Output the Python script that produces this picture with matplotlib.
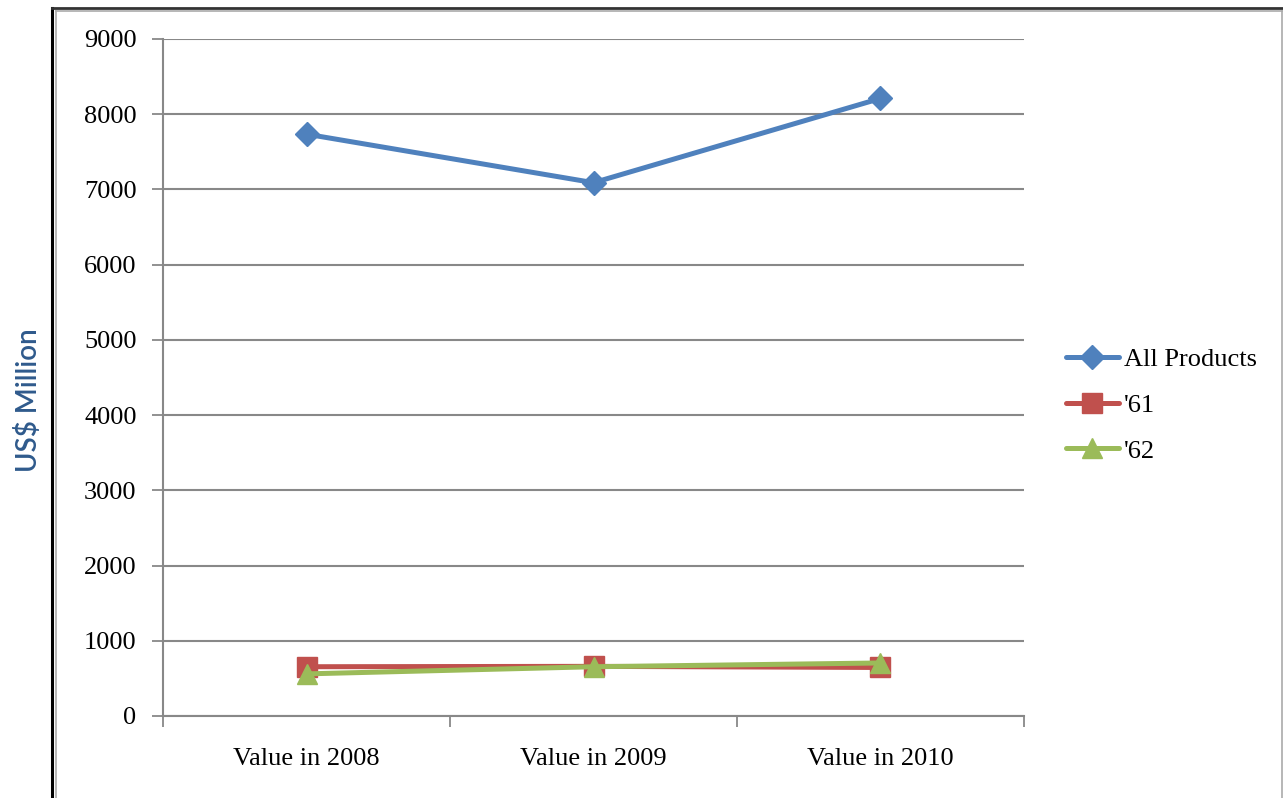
import matplotlib
matplotlib.use('Agg')
import matplotlib.pyplot as plt
from matplotlib.lines import Line2D

# ---------------------------------------------------------------- data
categories = ['Value in 2008', 'Value in 2009', 'Value in 2010']
all_products = [7735, 7090, 8210]
s61 = [655, 660, 645]
s62 = [560, 655, 705]

series_names = ['All Products', "'61", "'62"]
colors = ['#4F81BD', '#C0504D', '#9BBB59']
markers = ['D', 's', '^']
msizes = [12, 14, 14]

plt.rcParams['font.family'] = ['Liberation Serif', 'DejaVu Serif']

fig = plt.figure(figsize=(12.83, 7.98), dpi=100)
ax = fig.add_axes([163/1283, 1-716/798, (1024-163)/1283, (716-39)/798])

x = list(range(len(categories)))
for vals, name, c, m, ms in zip([all_products, s61, s62], series_names, colors, markers, msizes):
    ax.plot(x, vals, color=c, lw=3.6, marker=m, markersize=ms, label=name,
            solid_capstyle='round')

ax.set_xlim(-0.5, 2.5)
ax.set_ylim(0, 9000)
ax.set_yticks(range(0, 9001, 1000))
ax.set_xticks([-0.5, 0.5, 1.5, 2.5])
ax.set_xticklabels([])
ax.set_xticks(x, minor=True)
ax.set_xticklabels(categories, minor=True)
ax.tick_params(axis='x', which='minor', length=0, pad=23, labelsize=19)
ax.tick_params(axis='x', which='major', length=8, width=1.3, color='#888888', direction='out')
ax.tick_params(axis='y', length=8, width=1.3, color='#888888', direction='out', pad=11, labelsize=19)
ax.grid(axis='y', color='#888888', lw=1.5)
ax.set_axisbelow(True)
for side in ['top', 'right']:
    ax.spines[side].set_visible(False)
for side in ['left', 'bottom']:
    ax.spines[side].set_color('#888888')
    ax.spines[side].set_linewidth(1.5)

fig.text(28/1283, 1-400/798, 'US$ Million', rotation=90, ha='center', va='center',
         fontsize=20, color='#2F5A8C', fontweight='semibold',
         family=['Lato', 'DejaVu Sans'])

leg = ax.legend(loc='center left', bbox_to_anchor=(1042/1283, 1-405/798),
                bbox_transform=fig.transFigure, frameon=False, fontsize=19,
                handlelength=2.0, handletextpad=0.2, labelspacing=0.85)

# ------------------------------------------------------------ outer frame
fig.add_artist(Line2D([52/1283, 52/1283], [0, 1-8/798], color='black', lw=2.2))
fig.add_artist(Line2D([52/1283, 1], [1-8/798, 1-8/798], color='#333333', lw=2.0))
fig.add_artist(Line2D([56/1283, 56/1283], [0, 1-11/798], color='#aaaaaa', lw=1.2))
fig.add_artist(Line2D([56/1283, 1], [1-11/798, 1-11/798], color='#aaaaaa', lw=1.2))
fig.add_artist(Line2D([1281.5/1283, 1281.5/1283], [0, 1-11/798], color='#aaaaaa', lw=1.2))

fig.savefig('out.png', dpi=100)
